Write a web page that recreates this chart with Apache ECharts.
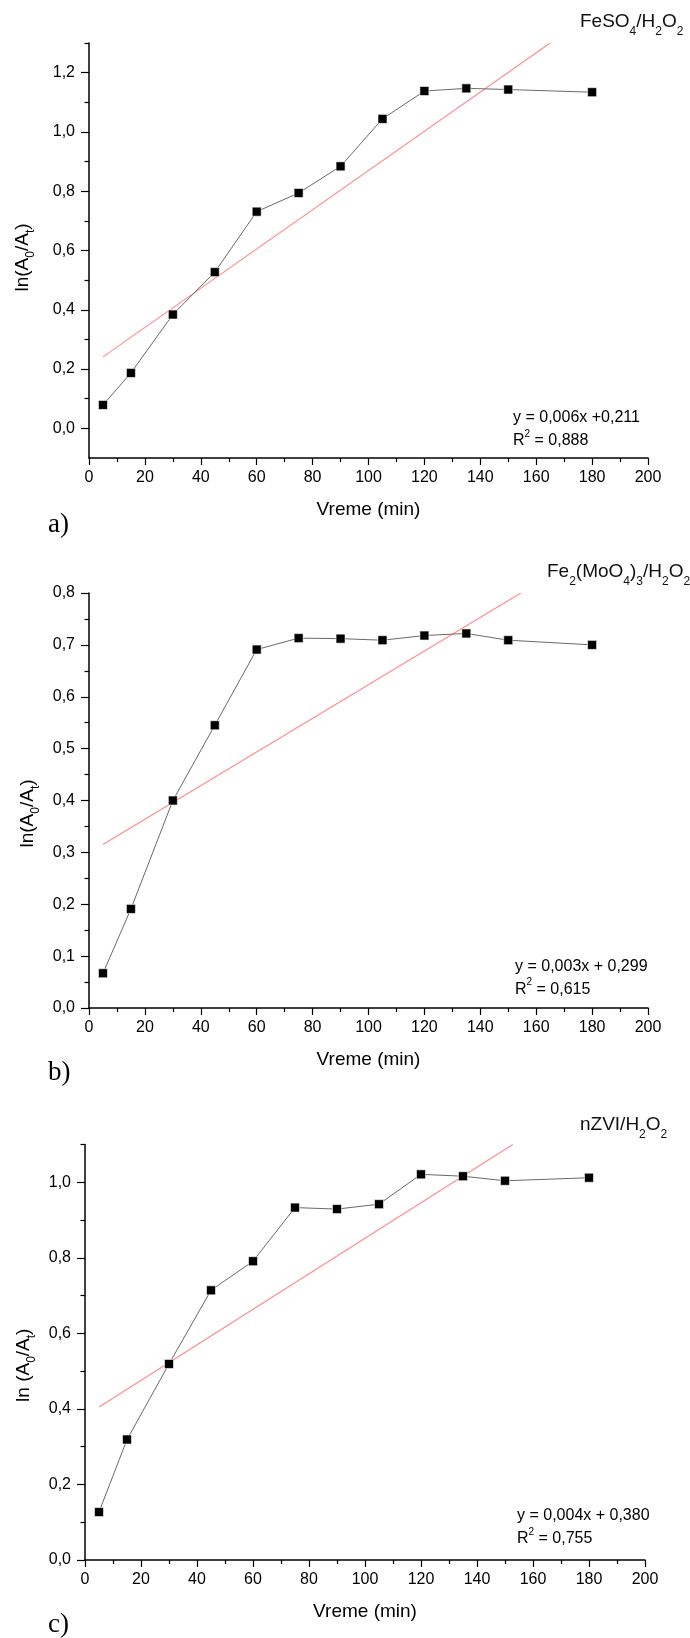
<!DOCTYPE html>
<html><head><meta charset="utf-8">
<script src="https://cdn.jsdelivr.net/npm/echarts@6/dist/echarts.min.js"></script>
<style>html,body{margin:0;padding:0;background:#fff}#c{width:690px;height:1638px}</style>
</head><body><div id="c"></div>
<script>
// ---------- data ----------
const times = [5, 15, 30, 45, 60, 75, 90, 105, 120, 135, 150, 180];
const valuesA = [0.079, 0.187, 0.384, 0.527, 0.731, 0.794, 0.884, 1.044, 1.138, 1.147, 1.143, 1.134];
const valuesB = [0.067, 0.191, 0.400, 0.545, 0.691, 0.713, 0.712, 0.709, 0.718, 0.722, 0.709, 0.700];
const valuesC = [0.127, 0.319, 0.519, 0.714, 0.791, 0.933, 0.929, 0.942, 1.021, 1.016, 1.004, 1.012];
const fitA = [[5, 0.241], [165, 1.30]];
const fitB = [[5, 0.315], [154.5, 0.80]];
const fitC = [[5, 0.405], [152.8, 1.10]];
const xTicks = [0, 20, 40, 60, 80, 100, 120, 140, 160, 180, 200];
const xMinor = [10, 30, 50, 70, 90, 110, 130, 150, 170, 190];
const yTicksA = [0, 0.2, 0.4, 0.6, 0.8, 1.0, 1.2];
const yMinorA = [0.1, 0.3, 0.5, 0.7, 0.9, 1.1, 1.3];
const yTicksB = [0, 0.1, 0.2, 0.3, 0.4, 0.5, 0.6, 0.7, 0.8];
const yMinorB = [0.05, 0.15, 0.25, 0.35, 0.45, 0.55, 0.65, 0.75];
const yTicksC = [0, 0.2, 0.4, 0.6, 0.8, 1.0];
const yMinorC = [0.1, 0.3, 0.5, 0.7, 0.9, 1.1];
const yRanges = [[-0.1, 1.3], [0, 0.8], [0, 1.1]];
const titles = ['{m|FeSO}{s|4}{m|/H}{s|2}{m|O}{s|2}',
                '{m|Fe}{s|2}{m|(MoO}{s|4}{m|)}{s|3}{m|/H}{s|2}{m|O}{s|2}',
                '{m|nZVI/H}{s|2}{m|O}{s|2}'];
const equations = ['y = 0,006x +0,211', 'y = 0,003x + 0,299', 'y = 0,004x + 0,380'];
const r2Values = ['0,888', '0,615', '0,755'];
const panelLabels = ['a)', 'b)', 'c)'];
const yNames = ['{m|ln(A}{s|0}{m|/A}{s|t}{m|)}', '{m|ln(A}{s|0}{m|/A}{s|t}{m|)}', '{m|ln (A}{s|0}{m|/A}{s|t}{m|)}'];
const xName = 'Vreme (min)';

// ---------- layout ----------
const FONT = "'Liberation Sans', Arial, sans-serif";
const grids = [
  {left: 89, top: 43, width: 559, height: 415},
  {left: 89, top: 593, width: 559, height: 415},
  {left: 85, top: 1144.5, width: 560, height: 415.5}
];
const yNameGap = [52, 44, 44];
const yNamePad = [14, 26, 26];
const titlePos = [[580, 22], [547, 571.5], [580, 1124.5]];
const eqPos = [[513, 418, 441], [515, 967, 989.5], [517, 1516, 1539]];
const panelPos = [[48, 525], [48, 1073], [48, 1625]];

const valuesAll = [valuesA, valuesB, valuesC];
const fits = [fitA, fitB, fitC];
const yTicks = [yTicksA, yTicksB, yTicksC];
const yMinors = [yMinorA, yMinorB, yMinorC];

const fmtY = v => v.toFixed(1).replace('.', ',');
const axisLine = {show: true, onZero: false, lineStyle: {color: '#000', width: 1.5}};
const noLine = {show: false, onZero: false};

const xAxes = [], yAxes = [], series = [], graphics = [];
for (let i = 0; i < 3; i++) {
  xAxes.push({
    type: 'value', gridIndex: i, min: 0, max: 200, position: 'bottom',
    axisLine: axisLine,
    axisTick: {show: true, customValues: xTicks, length: 7, lineStyle: {color: '#000', width: 1.2}},
    axisLabel: {customValues: xTicks, margin: 12, fontSize: 16, fontFamily: FONT, color: '#000'},
    splitLine: {show: false},
    name: xName, nameLocation: 'middle', nameGap: 42,
    nameTextStyle: {fontSize: 19, fontFamily: FONT, color: '#000'}
  });
  xAxes.push({
    type: 'value', gridIndex: i, min: 0, max: 200, position: 'bottom',
    axisLine: noLine,
    axisTick: {show: true, customValues: xMinor, length: 4, lineStyle: {color: '#000', width: 1.2}},
    axisLabel: {show: false}, splitLine: {show: false}
  });
  yAxes.push({
    type: 'value', gridIndex: i, min: yRanges[i][0], max: yRanges[i][1], position: 'left',
    axisLine: axisLine,
    axisTick: {show: true, customValues: yTicks[i], length: 8, lineStyle: {color: '#000', width: 1.2}},
    axisLabel: {customValues: yTicks[i], formatter: fmtY, margin: 14, fontSize: 16, fontFamily: FONT, color: '#000'},
    splitLine: {show: false},
    name: yNames[i], nameLocation: 'middle', nameGap: yNameGap[i],
    nameTextStyle: {
      fontSize: 19, fontFamily: FONT, color: '#000', padding: [0, yNamePad[i], 0, 0],
      rich: {
        m: {fontSize: 19, fontFamily: FONT, color: '#000'},
        s: {fontSize: 12, fontFamily: FONT, color: '#000', padding: [16, 0, 0, 0]}
      }
    }
  });
  yAxes.push({
    type: 'value', gridIndex: i, min: yRanges[i][0], max: yRanges[i][1], position: 'left',
    axisLine: noLine,
    axisTick: {show: true, customValues: yMinors[i], length: 4.5, lineStyle: {color: '#000', width: 1.2}},
    axisLabel: {show: false}, splitLine: {show: false}
  });
  series.push({
    type: 'line', xAxisIndex: 2 * i, yAxisIndex: 2 * i, z: 2,
    data: fits[i], symbol: 'none', silent: true,
    lineStyle: {color: '#ff8a8a', width: 1.1}
  });
  series.push({
    type: 'line', xAxisIndex: 2 * i, yAxisIndex: 2 * i, z: 3,
    data: times.map((t, k) => [t, valuesAll[i][k]]),
    symbol: 'rect', symbolSize: 9,
    itemStyle: {color: '#000', borderColor: '#fff', borderWidth: 0.6, opacity: 1},
    lineStyle: {color: '#6a6a6a', width: 1}
  });
  graphics.push({
    type: 'text', x: titlePos[i][0], y: titlePos[i][1],
    style: {
      text: titles[i], align: 'left', verticalAlign: 'middle', fill: '#111',
      rich: {
        m: {fontSize: 19, fontFamily: FONT, fill: '#111'},
        s: {fontSize: 12, fontFamily: FONT, fill: '#111', padding: [20, 0, 0, 0]}
      }
    }
  });
  graphics.push({
    type: 'text', x: eqPos[i][0], y: eqPos[i][1],
    style: {text: equations[i], align: 'left', verticalAlign: 'middle', fill: '#000', fontSize: 16, fontFamily: FONT}
  });
  graphics.push({
    type: 'text', x: eqPos[i][0], y: eqPos[i][2],
    style: {
      text: '{m|R}{p|2}{m| = ' + r2Values[i] + '}', align: 'left', verticalAlign: 'middle', fill: '#000',
      rich: {
        m: {fontSize: 16, fontFamily: FONT, fill: '#000'},
        p: {fontSize: 10, fontFamily: FONT, fill: '#000', padding: [0, 0, 14, 0]}
      }
    }
  });
  graphics.push({
    type: 'text', x: panelPos[i][0], y: panelPos[i][1],
    style: {text: panelLabels[i], align: 'left', verticalAlign: 'middle', fill: '#000', fontSize: 27,
            fontFamily: "'Liberation Serif', 'Times New Roman', serif"}
  });
}

const chart = echarts.init(document.getElementById('c'), null, {renderer: 'canvas'});
chart.setOption({
  animation: false,
  backgroundColor: '#fff',
  grid: grids,
  xAxis: xAxes,
  yAxis: yAxes,
  series: series,
  graphic: graphics
});
</script>
</body></html>
